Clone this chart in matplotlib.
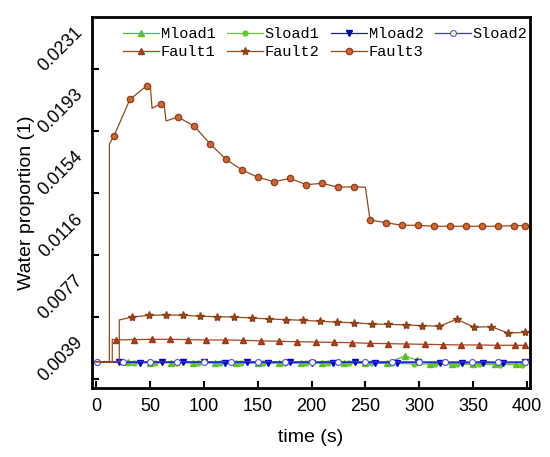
import matplotlib
matplotlib.use("Agg")
import matplotlib.pyplot as plt
from matplotlib.transforms import ScaledTranslation

# baseline level shared by all series at start
base = 0.00495

# Fault3 (circles)
f3_t = [0, 12.4, 12.4, 16.7, 31.5, 47, 50.5, 52, 60.3, 63, 65, 76, 91, 106, 120.6, 135.5,
        150.3, 165, 180, 195, 209.7, 224.6, 239.4, 250, 254.3, 269, 284, 299, 313.7,
        328.5, 343.4, 358.2, 373, 388, 398.4]
f3_v = [base, base, 0.01845, 0.01895, 0.02122, 0.02205, 0.02198, 0.02066, 0.02095, 0.02100,
        0.01988, 0.02012, 0.01957, 0.01845, 0.01750, 0.01684, 0.01639, 0.01611, 0.01632,
        0.01593, 0.01601, 0.01577, 0.01580, 0.01577, 0.01374, 0.01357, 0.01341, 0.01341,
        0.01335, 0.01335, 0.01335, 0.01335, 0.01335, 0.01339, 0.01339]
f3_marks = [3, 4, 5, 8] + list(range(11, 23)) + list(range(24, 35))

# Fault2 (stars)
f2_t = [0, 21.6, 21.6, 33, 49, 65, 81, 96.5, 112.6, 128, 144.5, 160.5, 176, 191.8, 208,
        223.7, 239.7, 255.8, 271, 287.4, 303, 318.6, 334.7, 350.8, 366.9, 382.4, 398.4]
f2_v = [base, base, 0.00754, 0.00771, 0.00783, 0.00785, 0.00783, 0.00777, 0.00774, 0.00772,
        0.00766, 0.00760, 0.00756, 0.00752, 0.00746, 0.00740, 0.00737, 0.00729, 0.00727,
        0.00723, 0.00719, 0.00715, 0.00758, 0.00710, 0.00712, 0.00673, 0.00677]
f2_marks = list(range(3, 27))

# Fault1 (triangles)
f1_t = [0, 15.1, 15.1, 18.3, 35.5, 52, 68.7, 85.7, 102.4, 119.4, 136.1, 153.1, 169.8, 186.8,
        203.9, 220.6, 237.6, 254.3, 271, 288, 305, 321.8, 338.7, 355.5, 372.4, 389.1, 398.4]
f1_v = [base, base, 0.00634, 0.00630, 0.00632, 0.00634, 0.00634, 0.00632, 0.00630, 0.00630,
        0.00628, 0.00624, 0.00622, 0.00619, 0.00617, 0.00615, 0.00613, 0.00609, 0.00607,
        0.00605, 0.00603, 0.00601, 0.00599, 0.00599, 0.00597, 0.00597, 0.00597]
f1_marks = list(range(3, 27))

# Sload2 (open circles)
s2_t = [1, 25, 50, 75, 100, 125, 150, 175, 200, 225, 250, 275, 300, 324, 349, 373, 398]
s2_v = [0.00495, 0.00495, 0.00495, 0.00495, 0.00495, 0.00495, 0.00495, 0.00495, 0.00495,
        0.00495, 0.00495, 0.00495, 0.00494, 0.00494, 0.00494, 0.00494, 0.00494]

# Mload2 (down triangles)
m2_t = [0, 21.6, 40.8, 60.9, 81, 100, 119.7, 139.8, 159.9, 180, 200, 220, 240.4, 259, 279,
        299, 319, 339.4, 359.5, 378, 398]
m2_v = [0.00495, 0.00491, 0.00490, 0.00491, 0.00491, 0.00491, 0.00490, 0.00491, 0.00490,
        0.00491, 0.00490, 0.00490, 0.00491, 0.00490, 0.00490, 0.00491, 0.00489, 0.00490,
        0.00490, 0.00489, 0.00491]

# Mload1 (green up triangles)
m1_t = [0, 30, 50, 70, 90, 110, 130, 150, 170, 190, 210, 230, 250, 270, 287, 298, 310, 330,
        350, 370, 390, 400]
m1_v = [0.00493, 0.00491, 0.00490, 0.00490, 0.00489, 0.00489, 0.00489, 0.00488, 0.00488,
        0.00488, 0.00488, 0.00487, 0.00487, 0.00487, 0.00531, 0.00505, 0.00484, 0.00483,
        0.00482, 0.00481, 0.00480, 0.00480]

# Sload1 (green dots)
s1_t = [0, 35, 55, 75, 95, 115, 135, 155, 175, 195, 215, 235, 255, 275, 295, 315, 335, 355,
        375, 395, 400]
s1_v = [0.00493, 0.00490, 0.00489, 0.00489, 0.00488, 0.00488, 0.00487, 0.00487, 0.00487,
        0.00486, 0.00486, 0.00486, 0.00485, 0.00485, 0.00482, 0.00480, 0.00479, 0.00478,
        0.00477, 0.00477, 0.00477]

yticks = [0.00385, 0.0077, 0.01155, 0.0154, 0.01925, 0.0231]
yticklabels = ["0.0039", "0.0077", "0.0116", "0.0154", "0.0193", "0.0231"]
xticks = [0, 50, 100, 150, 200, 250, 300, 350, 400]

plt.rcParams["font.family"] = ["Liberation Sans", "DejaVu Sans"]

fig = plt.figure(figsize=(5.5, 4.57), dpi=100)
ax = fig.add_axes([0.1673, 0.151, 0.7964, 0.8118])

lw = 0.9
h_m1, = ax.plot(m1_t, m1_v, color="#5cbf2a", lw=lw, marker="^", ms=4,
                markevery=list(range(1, len(m1_t) - 1)), mfc="#5cbf2a", mec="#5cbf2a", label="Mload1")
h_s1, = ax.plot(s1_t, s1_v, color="#66c833", lw=lw, marker="o", ms=3.5,
                markevery=list(range(1, len(s1_t) - 1)), mfc="#66c833", mec="#66c833", label="Sload1")
h_m2, = ax.plot(m2_t, m2_v, color="#1a1acc", lw=lw, marker="v", ms=4.5,
                markevery=list(range(1, len(m2_t))), mfc="#0000cc", mec="#0000cc", label="Mload2")
h_s2, = ax.plot(s2_t, s2_v, color="#3a3ad0", lw=lw, marker="o", ms=4.3,
                mfc="white", mec="#5050d8", mew=0.8, label="Sload2")
h_f1, = ax.plot(f1_t, f1_v, color="#a8461e", lw=lw, marker="^", ms=4.5,
                markevery=f1_marks, mfc="#b3401a", mec="#9a3a18", label="Fault1")
h_f2, = ax.plot(f2_t, f2_v, color="#9a4a1c", lw=lw, marker="*", ms=6,
                markevery=f2_marks, mfc="#a4481a", mec="#8c3e16", label="Fault2")
h_f3, = ax.plot(f3_t, f3_v, color="#8e4a1c", lw=lw, marker="o", ms=4.5,
                markevery=f3_marks, mfc="#cc6a30", mec="#9a3e1c", label="Fault3")

ax.set_xlim(-3.7, 402.8)
ax.set_ylim(0.003322, 0.026324)

ax.set_xticks(xticks)
ax.set_yticks(yticks)
ax.tick_params(direction="in", length=5, width=1.5, labelsize=13, top=False, right=False)
ax.tick_params(axis="x", pad=7)
ax.tick_params(axis="y", pad=4)
ax.set_yticklabels(yticklabels, rotation=45, va="center")
for sp in ax.spines.values():
    sp.set_linewidth(2)

# labels sit a bit above their ticks in the original
shift = ScaledTranslation(0, 20 / 100, fig.dpi_scale_trans)
for lab in ax.get_yticklabels():
    lab.set_transform(lab.get_transform() + shift)

ax.set_xlabel("time (s)", fontsize=14, labelpad=10)
ax.set_ylabel("Water proportion (1)", fontsize=14)
ax.yaxis.set_label_coords(-0.13, 0.5)

order = [h_m1, h_f1, h_s1, h_f2, h_m2, h_f3, h_s2]
ax.legend(order, [h.get_label() for h in order], ncol=4, frameon=False,
          loc="upper left", bbox_to_anchor=(0.07, 0.972), borderaxespad=0, borderpad=0,
          handlelength=2.4, handletextpad=0.1, columnspacing=0.72, labelspacing=0.25,
          prop={"family": ["Liberation Mono", "DejaVu Sans Mono"], "size": 11})

fig.savefig("out.png", dpi=100)
